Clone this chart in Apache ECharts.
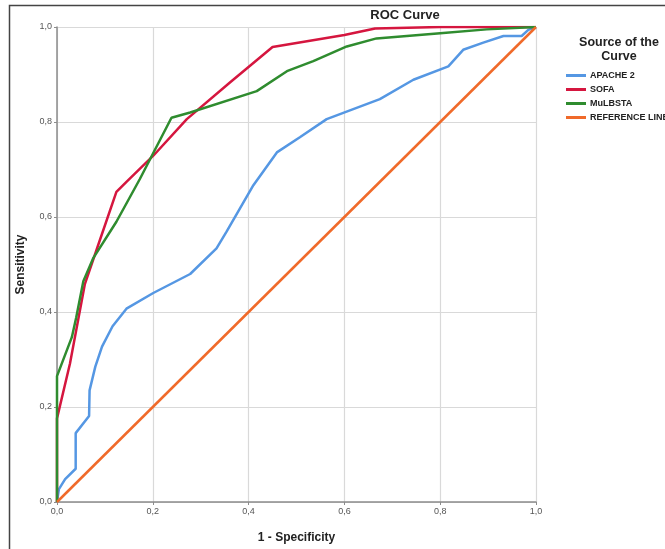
<!DOCTYPE html>
<html>
<head>
<meta charset="utf-8">
<script src="https://cdn.jsdelivr.net/npm/echarts@6/dist/echarts.min.js"></script>
<style>
  html, body { margin: 0; padding: 0; background: #fff; }
  #main { width: 665px; height: 549px; }
</style>
</head>
<body>
<div id="main"></div>
<script>
// ROC points, [1 - specificity, sensitivity]
var apache2 = [
  [0, 0], [0.004, 0.027], [0.017, 0.048], [0.039, 0.070], [0.039, 0.145],
  [0.067, 0.181], [0.068, 0.235], [0.080, 0.285], [0.094, 0.327], [0.116, 0.37],
  [0.145, 0.407], [0.201, 0.44], [0.278, 0.48], [0.333, 0.534], [0.354, 0.569],
  [0.382, 0.618], [0.41, 0.667], [0.459, 0.736], [0.507, 0.768], [0.563, 0.806],
  [0.674, 0.848], [0.744, 0.889], [0.817, 0.917], [0.848, 0.952], [0.89, 0.967],
  [0.932, 0.981], [0.97, 0.981], [0.984, 0.994], [1, 1]
]
var sofa = [
  [0, 0], [0, 0.176], [0.027, 0.291], [0.045, 0.388], [0.058, 0.458],
  [0.086, 0.541], [0.124, 0.653], [0.145, 0.674], [0.201, 0.729], [0.271, 0.806],
  [0.361, 0.883], [0.45, 0.958], [0.6, 0.983], [0.664, 0.997], [0.8, 1], [1, 1]
]
var mulbsta = [
  [0, 0], [0, 0.265], [0.031, 0.347], [0.04, 0.388], [0.055, 0.465],
  [0.076, 0.514], [0.124, 0.59], [0.173, 0.68], [0.239, 0.809], [0.278, 0.82],
  [0.417, 0.865], [0.48, 0.907], [0.535, 0.928], [0.605, 0.959], [0.667, 0.976],
  [0.8, 0.987], [0.897, 0.995], [1, 1]
]
var referenceLine = [[0, 0], [1, 1]]
var seriesNames = ['APACHE 2', 'SOFA', 'MuLBSTA', 'REFERENCE LINE']
var tickLabels = ['0,0', '0,2', '0,4', '0,6', '0,8', '1,0']

var chart = echarts.init(document.getElementById('main'))

function tickFmt(v) {
  return tickLabels[Math.round(v * 5)]
}

function lineSerie(name, data, color) {
  return {
    name: name,
    type: 'line',
    data: data,
    symbol: 'none',
    smooth: false,
    lineStyle: { width: 2.5, color: color },
    itemStyle: { color: color }
  }
}

var font = 'Arial, "Liberation Sans", sans-serif'

chart.setOption({
  animation: false,
  textStyle: { fontFamily: font },
  title: [
    {
      text: 'ROC Curve',
      left: 400, top: 4,
      textAlign: 'center',
      textStyle: { fontSize: 13, fontWeight: 'bold', color: '#222', fontFamily: font }
    },
    {
      text: 'Source of the\nCurve',
      left: 614, top: 31,
      textAlign: 'center',
      textStyle: { fontSize: 12.5, fontWeight: 'bold', color: '#222', lineHeight: 14, fontFamily: font }
    }
  ],
  legend: {
    orient: 'vertical',
    left: 561, top: 66,
    icon: 'rect',
    itemWidth: 20, itemHeight: 3,
    itemGap: 5,
    data: seriesNames,
    textStyle: { fontSize: 9, fontWeight: 'bold', color: '#222', padding: [0, 0, 0, -1], fontFamily: font }
  },
  grid: { left: 57, top: 27, width: 479, height: 479 },
  xAxis: {
    type: 'value', min: 0, max: 1, interval: 0.2,
    name: '1 - Specificity',
    nameLocation: 'middle', nameGap: 30,
    nameTextStyle: { fontSize: 12, fontWeight: 'bold', color: '#222' },
    axisLine: { show: true, lineStyle: { color: '#8c8c8c', width: 1.5 } },
    axisTick: { show: true, length: 3, lineStyle: { color: '#8c8c8c' } },
    axisLabel: { formatter: tickFmt, fontSize: 9, color: '#555', margin: 5 },
    splitLine: { show: true, lineStyle: { color: '#d9d9d9', width: 1.2 } }
  },
  yAxis: {
    type: 'value', min: 0, max: 1, interval: 0.2,
    name: 'Sensitivity',
    nameLocation: 'middle', nameGap: 30,
    nameTextStyle: { fontSize: 12, fontWeight: 'bold', color: '#222' },
    axisLine: { show: true, lineStyle: { color: '#8c8c8c', width: 1.5 } },
    axisTick: { show: true, length: 3, lineStyle: { color: '#8c8c8c' } },
    axisLabel: { formatter: tickFmt, fontSize: 9, color: '#555', margin: 5 },
    splitLine: { show: true, lineStyle: { color: '#d9d9d9', width: 1.2 } }
  },
  graphic: [
    {
      type: 'rect',
      shape: { x: 9.5, y: 5.5, width: 700, height: 600 },
      style: { fill: null, stroke: '#444', lineWidth: 1.5 },
      silent: true
    }
  ],
  series: [
    lineSerie(seriesNames[0], apache2, '#5597e3'),
    lineSerie(seriesNames[1], sofa, '#d5163f'),
    lineSerie(seriesNames[2], mulbsta, '#2f8c2f'),
    lineSerie(seriesNames[3], referenceLine, '#f06a2a')
  ]
})
</script>
</body>
</html>
